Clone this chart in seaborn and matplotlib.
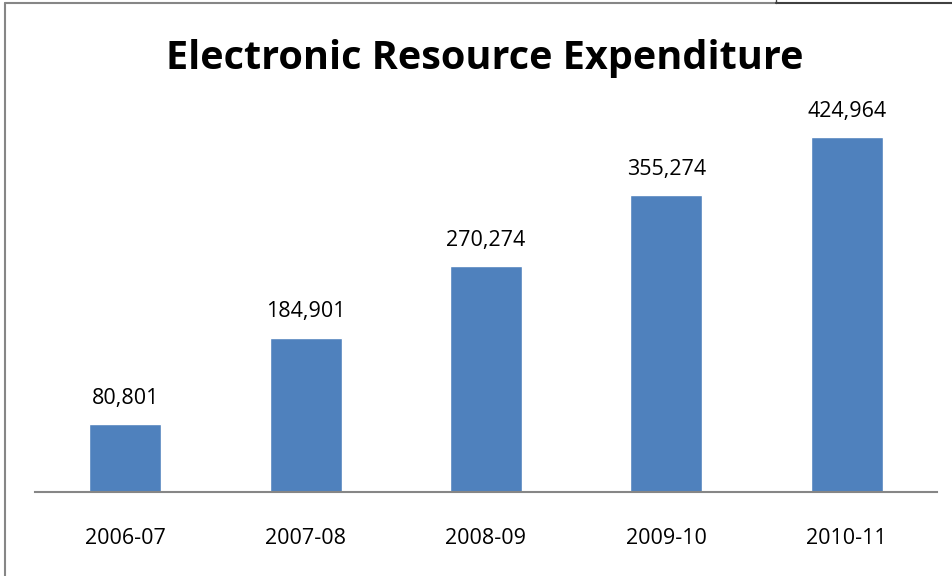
import matplotlib
matplotlib.use("Agg")
import matplotlib.pyplot as plt
import seaborn as sns
import pandas as pd
from matplotlib.lines import Line2D

years = ["2006-07", "2007-08", "2008-09", "2009-10", "2010-11"]
spend = [80801, 184901, 270274, 355274, 424964]

df = pd.DataFrame({"year": years, "spend": spend})

sns.set_style("white")
plt.rcParams["font.family"] = ["Open Sans", "DejaVu Sans"]

fig = plt.figure(figsize=(9.53, 5.76), dpi=100)
ax = fig.add_axes([35 / 953, 1 - 492 / 576, 902 / 953, 376 / 576])

sns.barplot(data=df, x="year", y="spend", color="#4F81BD", width=0.4, saturation=1, ax=ax)

ax.set_ylim(0, 450000)
ax.set_xlim(-0.5, len(years) - 0.5)
for i, v in enumerate(spend):
    ax.text(i, v + 18000, f"{v:,}", ha="center", va="bottom", fontsize=15.5, color="black")

ax.set_xlabel("")
ax.set_ylabel("")
ax.set_yticks([])
ax.tick_params(axis="x", length=0, labelsize=15.5, pad=26, colors="black")
for s in ["top", "right", "left"]:
    ax.spines[s].set_visible(False)
ax.spines["bottom"].set_color("#868686")
ax.spines["bottom"].set_linewidth(1.5)

fig.text(485 / 953, 1 - 58 / 576, "Electronic Resource Expenditure", ha="center", va="center",
         fontsize=28.5, fontweight="bold", color="black")

# chart border (left and top edges visible in the crop)
fig.add_artist(Line2D([5 / 953, 5 / 953], [0, 1 - 3 / 576], transform=fig.transFigure, color="#868686", linewidth=1.5))
fig.add_artist(Line2D([5 / 953, 776 / 953], [1 - 3 / 576, 1 - 3 / 576], transform=fig.transFigure, color="#868686", linewidth=1.5))
fig.add_artist(Line2D([776 / 953, 1], [1 - 3 / 576, 1 - 3 / 576], transform=fig.transFigure, color="#404040", linewidth=1.5))
fig.add_artist(Line2D([776 / 953, 776 / 953], [1 - 3 / 576, 1], transform=fig.transFigure, color="#404040", linewidth=1))

fig.savefig("out.png", dpi=100)
